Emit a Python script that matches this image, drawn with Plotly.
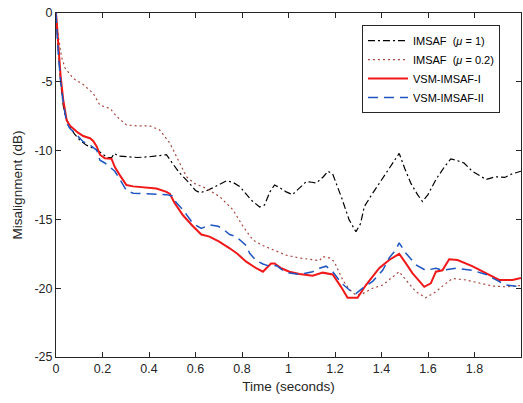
import plotly.graph_objects as go

# IMSAF (mu = 1)
t_mu1 = [0, 0.01, 0.02, 0.03, 0.04, 0.06, 0.08, 0.1, 0.13, 0.15, 0.18, 0.2, 0.22, 0.24, 0.25, 0.27,
         0.3, 0.35, 0.4, 0.45, 0.475, 0.5, 0.53, 0.57, 0.6, 0.62, 0.65, 0.675, 0.7, 0.733, 0.76, 0.79,
         0.82, 0.84, 0.876, 0.897, 0.92, 0.94, 0.96, 0.99, 1.017, 1.05, 1.076, 1.1, 1.12, 1.15, 1.17,
         1.19, 1.205, 1.23, 1.26, 1.29, 1.31, 1.326, 1.362, 1.405, 1.44, 1.476, 1.5, 1.527, 1.555,
         1.576, 1.6, 1.634, 1.67, 1.698, 1.72, 1.755, 1.79, 1.82, 1.85, 1.87, 1.89, 1.93, 1.96, 2.0]
y_mu1 = [0, -2.5, -5.0, -6.6, -7.5, -8.3, -8.8, -9.2, -9.6, -9.75, -10.0, -10.25, -10.5, -10.5, -10.2,
         -10.4, -10.45, -10.5, -10.45, -10.35, -10.3, -10.9, -11.6, -12.3, -12.9, -13.06, -12.9, -12.7,
         -12.5, -12.2, -12.3, -12.6, -13.2, -13.6, -14.1, -13.95, -13.0, -12.5, -12.67, -13.0, -13.2,
         -12.7, -12.26, -12.3, -12.35, -11.9, -11.5, -11.7, -12.35, -13.5, -15.0, -15.9, -15.3, -14.07,
         -13.1, -12.0, -11.05, -10.2, -11.3, -12.4, -13.2, -13.7, -13.2, -12.1, -11.2, -10.6, -10.7,
         -10.9, -11.5, -11.8, -12.1, -12.0, -11.9, -11.95, -11.7, -11.5]

# IMSAF (mu = 0.2)
t_mu02 = [0, 0.01, 0.024, 0.039, 0.074, 0.117, 0.16, 0.189, 0.232, 0.26, 0.303, 0.346, 0.403, 0.446,
          0.49, 0.518, 0.561, 0.597, 0.647, 0.704, 0.761, 0.804, 0.847, 0.89, 0.933, 0.99, 1.047,
          1.104, 1.133, 1.147, 1.176, 1.197, 1.233, 1.262, 1.29, 1.319, 1.362, 1.405, 1.448, 1.476,
          1.505, 1.548, 1.59, 1.634, 1.677, 1.705, 1.762, 1.82, 1.877, 1.936, 2.0]
y_mu02 = [0, -1.7, -3.2, -4.0, -4.75, -5.2, -5.84, -6.7, -6.93, -7.5, -8.14, -8.2, -8.2, -8.5,
          -9.47, -10.44, -11.9, -12.4, -12.75, -13.35, -14.3, -15.5, -16.5, -16.9, -17.2, -17.6,
          -17.8, -17.95, -18.0, -17.7, -17.8, -18.07, -19.4, -20.1, -20.5, -20.4, -20.0, -19.77,
          -19.16, -18.8, -19.4, -20.25, -20.7, -20.25, -19.65, -19.3, -19.4, -19.65, -19.84, -19.9,
          -19.8]

# VSM-IMSAF-I
t_v1 = [0, 0.01, 0.02, 0.031, 0.046, 0.06, 0.074, 0.095, 0.117, 0.146, 0.16, 0.175, 0.189, 0.21,
        0.239, 0.253, 0.275, 0.303, 0.332, 0.38, 0.432, 0.475, 0.49, 0.51, 0.53, 0.546, 0.589, 0.625,
        0.66, 0.7, 0.747, 0.78, 0.818, 0.861, 0.89, 0.911, 0.925, 0.94, 0.969, 1.004, 1.047, 1.104,
        1.147, 1.19, 1.226, 1.254, 1.297, 1.333, 1.39, 1.433, 1.476, 1.505, 1.533, 1.584, 1.612,
        1.634, 1.662, 1.691, 1.727, 1.79, 1.85, 1.906, 1.963, 2.0]
y_v1 = [0, -2.7, -4.6, -6.3, -7.8, -8.2, -8.4, -8.7, -8.94, -9.1, -9.3, -9.7, -10.3, -10.56, -10.6,
        -11.2, -11.8, -12.5, -12.6, -12.65, -12.75, -13.0, -13.15, -13.8, -14.3, -14.7, -15.5,
        -16.1, -16.25, -16.6, -17.1, -17.5, -18.07, -18.55, -18.8, -18.4, -18.2, -18.2, -18.55,
        -18.8, -18.97, -19.1, -18.87, -19.0, -19.9, -20.7, -20.7, -19.77, -18.55, -17.95, -17.5,
        -18.2, -18.9, -19.9, -19.65, -18.8, -18.7, -17.9, -17.95, -18.4, -18.9, -19.4, -19.4, -19.25]

# VSM-IMSAF-II
t_v2 = [0, 0.01, 0.02, 0.031, 0.046, 0.06, 0.074, 0.095, 0.117, 0.146, 0.175, 0.189, 0.21, 0.239,
        0.253, 0.275, 0.303, 0.332, 0.38, 0.43, 0.475, 0.5, 0.518, 0.546, 0.589, 0.625, 0.66, 0.697,
        0.718, 0.747, 0.775, 0.818, 0.833, 0.861, 0.89, 0.918, 0.947, 0.976, 1.004, 1.047, 1.104,
        1.133, 1.162, 1.19, 1.226, 1.262, 1.29, 1.319, 1.362, 1.405, 1.433, 1.462, 1.476, 1.505,
        1.548, 1.59, 1.634, 1.662, 1.72, 1.79, 1.85, 1.893, 1.936, 2.0]
y_v2 = [0, -3.0, -5.0, -6.5, -8.0, -8.4, -8.6, -9.0, -9.35, -9.6, -9.96, -10.7, -10.9, -11.3,
        -11.5, -12.1, -12.9, -13.1, -13.15, -13.2, -13.2, -13.3, -13.8, -14.3, -15.3, -15.65,
        -15.4, -15.5, -15.7, -16.1, -16.25, -16.9, -17.46, -18.0, -18.24, -18.4, -18.35, -18.7,
        -18.9, -19.0, -18.8, -18.55, -18.4, -18.8, -19.6, -20.13, -20.4, -20.0, -19.5, -18.7,
        -17.8, -17.2, -16.7, -17.46, -18.3, -18.7, -18.55, -18.7, -18.55, -18.7, -19.0, -19.4,
        -19.77, -19.9]

x_ticks = [0, 0.2, 0.4, 0.6, 0.8, 1, 1.2, 1.4, 1.6, 1.8, 2]
x_ticklabels = ["0", "0.2", "0.4", "0.6", "0.8", "1", "1.2", "1.4", "1.6", "1.8", "2"]
y_ticks = [0, -5, -10, -15, -20, -25]
y_ticklabels = ["0", "-5", "-10", "-15", "-20", "-25"]

fig = go.Figure()
fig.add_trace(go.Scatter(x=t_mu1, y=y_mu1, mode="lines", name="IMSAF  (<i>μ</i> = 1)",
                         line=dict(color="#000000", width=1.2, dash="7px,3px,2px,3px")))
fig.add_trace(go.Scatter(x=t_mu02, y=y_mu02, mode="lines", name="IMSAF  (<i>μ</i> = 0.2)",
                         line=dict(color="#A8493F", width=1.2, dash="2px,3px")))
fig.add_trace(go.Scatter(x=t_v1, y=y_v1, mode="lines", name="VSM-IMSAF-I",
                         line=dict(color="#F01818", width=2)))
fig.add_trace(go.Scatter(x=t_v2, y=y_v2, mode="lines", name="VSM-IMSAF-II",
                         line=dict(color="#1F55C0", width=1.5, dash="10px,6px")))

axis_col = "#262626"
fig.update_layout(
    width=523, height=403,
    margin=dict(l=56, r=2, t=13, b=46),
    paper_bgcolor="white", plot_bgcolor="white",
    font=dict(family="Liberation Sans, Arial, sans-serif", size=12.5, color=axis_col),
    showlegend=True,
    legend=dict(x=0.658, y=0.965, xanchor="left", yanchor="top",
                bgcolor="white", bordercolor="#262626", borderwidth=1,
                font=dict(size=11, color="#000000"), tracegroupgap=0,
                itemwidth=40),
    xaxis=dict(range=[0, 2], tickvals=x_ticks, ticktext=x_ticklabels,
               ticks="inside", ticklen=5, tickcolor=axis_col, showline=True,
               linecolor=axis_col, linewidth=1, mirror="ticks", showgrid=False,
               zeroline=False, title=dict(text="Time (seconds)", font=dict(size=13.5), standoff=6)),
    yaxis=dict(range=[-25, 0], tickvals=y_ticks, ticktext=y_ticklabels,
               ticks="inside", ticklen=5, tickcolor=axis_col, showline=True,
               linecolor=axis_col, linewidth=1, mirror="ticks", showgrid=False,
               zeroline=False, title=dict(text="Misalignment (dB)", font=dict(size=13.5), standoff=8)),
)

fig.write_html("out.html", config={"displayModeBar": False},
               post_script="document.body.style.margin='0px';document.body.style.overflow='hidden';")
